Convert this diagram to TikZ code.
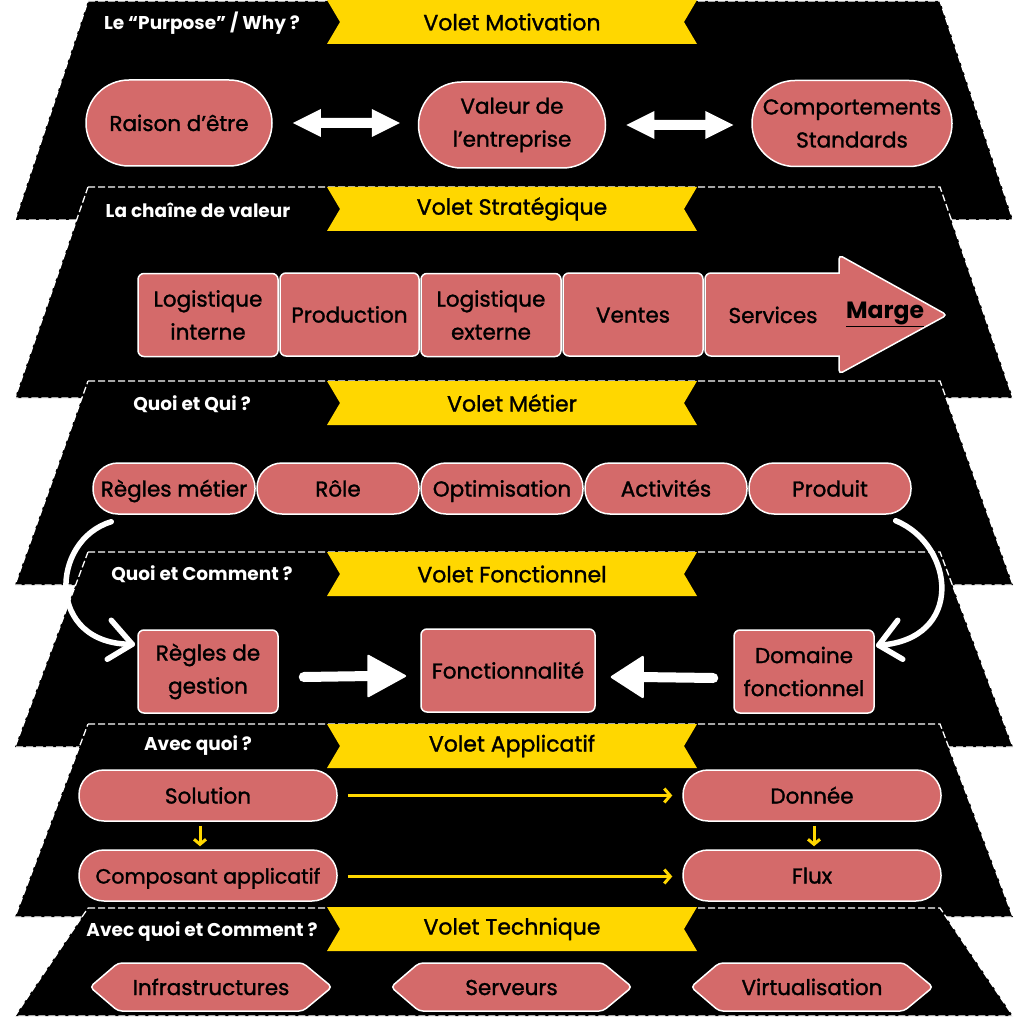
\documentclass[tikz,border=0pt]{standalone}
\usepackage{fontspec}
\setmainfont{Poppins}
\newfontfamily\medfont{Poppins}[FakeBold=1.4]
\usetikzlibrary{arrows.meta}
\definecolor{nodered}{HTML}{D46A6A}
\definecolor{banyel}{HTML}{FFD700}
\tikzset{
  bandborder/.style={draw=white, line width=1.3pt, dash pattern=on 7pt off 3pt},
  nodetxt/.style={font=\medfont\fontsize{21.5}{33}\selectfont, text=black, align=center, inner sep=0pt},
  onel/.style={text height=16pt, text depth=0pt},
  boxst/.style={nodetxt, draw=white, line width=1.5pt, fill=nodered, rounded corners=6pt, minimum height=83pt},
  pillbig/.style={nodetxt, draw=white, line width=1.5pt, fill=nodered, rounded corners=43pt, minimum height=86pt},
  pill/.style={nodetxt, onel, draw=white, line width=1.5pt, fill=nodered, rounded corners=25pt, minimum height=51pt},
  hexst/.style={draw=white, line width=1.5pt, fill=nodered, rounded corners=4pt},
  lbl/.style={font=\bfseries\fontsize{18.5}{22}\selectfont, text=white, inner sep=0pt},
  ttl/.style={font=\medfont\fontsize{22}{26}\selectfont, text=black, inner sep=0pt},
  curvarrow/.style={draw=white, line width=5.5pt, line cap=round, line join=round},
  yelarrow/.style={draw=banyel, line width=3pt, -{Straight Barb[length=6pt,width=14pt]}},
}
\newcommand\mkband[2]{%
  \fill[black] (88,#1) -- (940,#1) -- (1013,#2) -- (15,#2) -- cycle;
  \draw[bandborder] (88,#1) -- (940,#1) -- (1013,#2) -- (15,#2) -- cycle;}
\newcommand\mkbanner[3]{%
  \fill[banyel] (327,#2) -- (697,#2) -- (684,{#2+22}) -- (697,{#2+44}) -- (327,{#2+44}) -- (340,{#2+22}) -- cycle;
  \node[ttl] (#1) at (512,{#2+22}) {#3};}
\newcommand\mkhex[4]{%
  \draw[hexst] ({#2-#3},987) -- ({#2-#3+28},963) -- ({#2+#3-29},963) -- ({#2+#3},987) -- ({#2+#3-29},1011) -- ({#2-#3+28},1011) -- cycle;
  \node[nodetxt, onel] (#1) at (#2,987) {#4};}
\begin{document}
\begin{tikzpicture}[x=1pt,y=-1pt]
\useasboundingbox (0,0) rectangle (1024,1024);
\fill[white] (0,0) rectangle (1024,1024);
% ---------- Band 1
\mkband{1}{220}
\mkbanner{t1}{0}{Volet Motivation}
\node[lbl] (l1) at (202,23) {Le “Purpose” / Why ?};
\node[pillbig, onel, minimum width=186pt] (raison) at (179,123) {Raison d’être};
\node[pillbig, minimum width=187pt, yshift=-2pt] (valeur) at (512,123) {Valeur de\\l’entreprise};
\node[pillbig, minimum width=200pt, yshift=-0.5pt] (compt) at (852,123) {Comportements\\Standards};
\path ([xshift=20pt]raison.east) coordinate (da1);
\path ([xshift=20pt]valeur.east) coordinate (da2);
\fill[white] (da1) -- ++(28,-14) -- ++(0,9) -- ++(51,0) -- ++(0,-9) -- ++(28,14) -- ++(-28,14) -- ++(0,-9) -- ++(-51,0) -- ++(0,9) -- cycle;
\fill[white] (da2) -- ++(28,-14) -- ++(0,9) -- ++(51,0) -- ++(0,-9) -- ++(28,14) -- ++(-28,14) -- ++(0,-9) -- ++(-51,0) -- ++(0,9) -- cycle;
% ---------- Band 2
\mkband{187}{398}
\mkbanner{t2}{187}{Volet Stratégique}
\node[lbl] (l2) at (198,210) {La chaîne de valeur};
\node[boxst, minimum width=140pt, yshift=-0.5pt] (li) at (208,314.5) {Logistique\\interne};
\node[boxst, onel, minimum width=139pt] (prod) at (349.5,314.5) {Production};
\node[boxst, minimum width=140pt, yshift=-0.5pt] (le) at (491,314.5) {Logistique\\externe};
\node[boxst, onel, minimum width=140pt] (vent) at (633,314.5) {Ventes};
\draw[draw=white, line width=1.5pt, fill=nodered] [rounded corners=6pt] (705,314) -- (705,273) [sharp corners] -- (839,273) [rounded corners=4pt] -- (839,255) -- (947,315) -- (839,374) [sharp corners] -- (839,356) [rounded corners=6pt] -- (705,356) -- cycle;
\node[nodetxt, onel] (serv) at (773,315) {Services};
\node[nodetxt, font=\bfseries\fontsize{23.5}{27}\selectfont] (marge) at (885,314) {\underline{Marge}};
% ---------- Band 3
\mkband{381}{585}
\mkbanner{t3}{381}{Volet Métier}
\node[lbl] (l3) at (192,404) {Quoi et Qui ?};
\node[pill, minimum width=162pt] (rm) at (174,488.5) {Règles métier};
\node[pill, minimum width=162pt] (role) at (338,488.5) {Rôle};
\node[pill, minimum width=162pt] (opt) at (502,488.5) {Optimisation};
\node[pill, minimum width=162pt] (act) at (666,488.5) {Activités};
\node[pill, minimum width=162pt] (prodt) at (830,488.5) {Produit};
% ---------- Band 4
\mkband{552}{747}
\mkbanner{t4}{552}{Volet Fonctionnel}
\node[lbl] (l4) at (202,574) {Quoi et Comment ?};
\node[boxst, minimum width=140pt, yshift=-1pt] (rg) at (208,670.5) {Règles de\\gestion};
\node[boxst, onel, minimum width=174pt] (fon) at (508,670.5) {Fonctionnalité};
\node[boxst, minimum width=140pt, yshift=-1pt] (dom) at (804,670.5) {Domaine\\fonctionnel};
% curved arrows from band 3 to band 4
\path ([xshift=19pt,yshift=-7pt]rm.south west) coordinate (c1s);
\path ([xshift=-5pt,yshift=-15pt]rg.north west) coordinate (c1e);
\draw[curvarrow] (c1s) .. controls (50,540) and (45,645) .. (c1e);
\draw[curvarrow] ([shift={(-21,-24)}]c1e) -- (c1e) -- ([shift={(-25,15)}]c1e);
\path ([xshift=-16pt,yshift=-6pt]prodt.south east) coordinate (c2s);
\path ([xshift=4pt,yshift=-16pt]dom.north east) coordinate (c2e);
\draw[curvarrow] (c2s) .. controls (955,545) and (965,640) .. (c2e);
\draw[curvarrow] ([shift={(19,-25)}]c2e) -- (c2e) -- ([shift={(24,14)}]c2e);
% block arrows
\path ([xshift=25pt,yshift=-5.5pt]rg.east) coordinate (b1s);
\path ([xshift=-13pt,yshift=-5.5pt]fon.west) coordinate (b1e);
\draw[white, line width=10pt, line cap=round] (b1s) -- ([xshift=-36pt]b1e);
\fill[white, rounded corners=2pt] (b1e) -- ++(-40,-22) -- ++(0,44) -- cycle;
\path ([xshift=-20pt,yshift=-6.5pt]dom.west) coordinate (b2s);
\path ([xshift=14pt,yshift=-6.5pt]fon.east) coordinate (b2e);
\draw[white, line width=10pt, line cap=round] (b2s) -- ([xshift=30pt]b2e);
\fill[white, rounded corners=2pt] (b2e) -- ++(34,-22) -- ++(0,44) -- cycle;
% ---------- Band 5
\mkband{724}{917}
\mkbanner{t5}{724}{Volet Applicatif}
\node[lbl] (l5) at (198,746) {Avec quoi ?};
\node[pill, minimum width=258pt] (sol) at (208,795.5) {Solution};
\node[pill, minimum width=258pt, font=\medfont\fontsize{20.5}{30}\selectfont] (comp) at (208,875.5) {Composant applicatif};
\node[pill, minimum width=258pt] (don) at (812,795.5) {Donnée};
\node[pill, minimum width=258pt] (flux) at (812,875.5) {Flux};
\draw[yelarrow] ([xshift=10pt]sol.east) -- ([xshift=-10pt]don.west);
\draw[yelarrow] ([xshift=10pt,yshift=-1pt]comp.east) -- ([xshift=-10pt,yshift=-1pt]flux.west);
\draw[draw=banyel, line width=3pt, -{Straight Barb[length=5pt,width=12pt]}] ([xshift=-8pt,yshift=-4pt]sol.south) -- ([xshift=-8pt,yshift=3pt]comp.north);
\draw[draw=banyel, line width=3pt, -{Straight Barb[length=5pt,width=12pt]}] ([xshift=2pt,yshift=-4pt]don.south) -- ([xshift=2pt,yshift=3pt]flux.north);
% ---------- Band 6
\mkband{908}{1016}
\mkbanner{t6}{907}{Volet Technique}
\node[lbl] (l6) at (202,932) {Avec quoi et Comment ?};
\mkhex{infra}{211}{121}{Infrastructures}
\mkhex{serv2}{511.5}{120.5}{Serveurs}
\mkhex{virt}{812}{121}{Virtualisation}
\end{tikzpicture}
\end{document}
